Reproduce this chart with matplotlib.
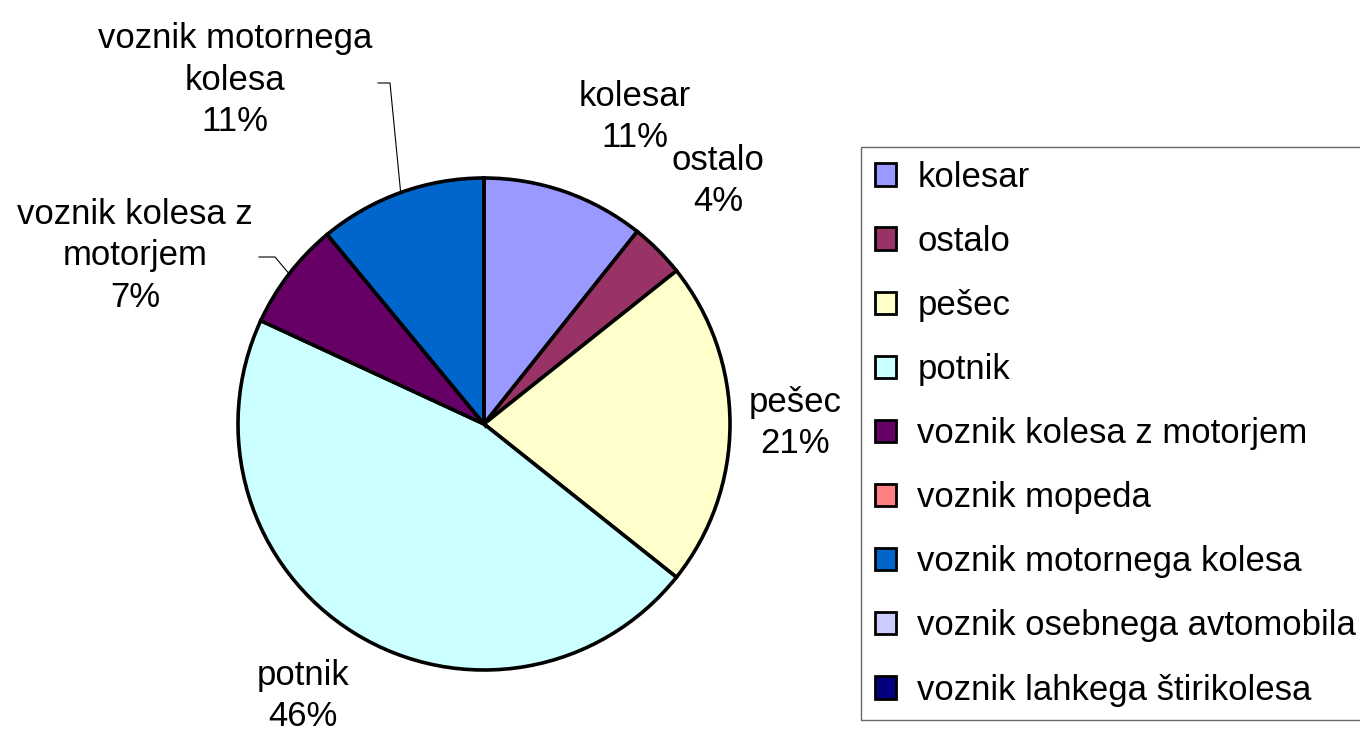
import numpy as np
import matplotlib
matplotlib.use("Agg")
import matplotlib.pyplot as plt

plt.rcParams['font.family'] = ['Liberation Sans', 'DejaVu Sans']

# categories and shares
categories = ['kolesar', 'ostalo', 'pešec', 'potnik', 'voznik kolesa z motorjem',
              'voznik mopeda', 'voznik motornega kolesa', 'voznik osebnega avtomobila',
              'voznik lahkega štirikolesa']
values = [10.7, 3.6, 21.4, 46.2, 7.1, 0.0, 11.0, 0.0, 0.0]
colors = ['#9999FF', '#993366', '#FFFFCC', '#CCFFFF', '#660066',
          '#FF8080', '#0066CC', '#CCCCFF', '#000080']
# label text on the pie (wrapped like the original)
pie_names = ['kolesar', 'ostalo', 'pešec', 'potnik', 'voznik kolesa z\nmotorjem',
             '', 'voznik motornega\nkolesa', '', '']

W, H = 1360, 739
fig = plt.figure(figsize=(W / 100, H / 100), dpi=100)
ax = fig.add_axes([0, 0, 1, 1])

def px(x, y):
    # picture pixel -> data coords
    return x, H - y

cx, cy = px(484, 424)
R = 246

wedges, _ = ax.pie(values, colors=colors, startangle=90, counterclock=False,
                   center=(cx, cy), radius=R, frame=True,
                   wedgeprops=dict(edgecolor='black', linewidth=2.6))
ax.set_xlim(0, W)
ax.set_ylim(0, H)
ax.set_aspect('equal')
ax.axis('off')

total = sum(values)
# label centres in picture pixels
label_pos = {0: (635, 117), 1: (718, 181), 2: (795, 423), 3: (303, 696),
             4: (135, 256), 6: (235, 80)}
# leader lines: knee and end point, start is the slice edge at its middle
leaders = {4: ((275, 257), (259, 257)),
           6: ((390, 83), (378, 83))}

for i, w in enumerate(wedges):
    if values[i] == 0:
        continue
    txt = '%s\n%.0f%%' % (pie_names[i], values[i] / total * 100)
    ax.text(*px(*label_pos[i]), txt, ha='center', va='center',
            fontsize=25, linespacing=1.33)
    if i in leaders:
        mid = np.deg2rad((w.theta1 + w.theta2) / 2)
        ex = cx + R * np.cos(mid)
        ey = cy + R * np.sin(mid)
        knee, end = leaders[i]
        kx, ky = px(*knee)
        nx, ny = px(*end)
        ax.plot([ex, kx, nx], [ey, ky, ny], color='black', linewidth=0.8)

leg = fig.legend(wedges, categories, loc='upper left',
                 bbox_to_anchor=(861 / W, 1 - 147 / H), fontsize=25,
                 frameon=True, fancybox=False, shadow=False,
                 handlelength=0.62, handleheight=0.62, handletextpad=0.6,
                 labelspacing=0.895, borderpad=0.4, borderaxespad=0)
leg.get_frame().set_edgecolor('#444444')
leg.get_frame().set_linewidth(1.0)
for h in leg.legend_handles:
    h.set_linewidth(2.0)

fig.savefig('out.png', dpi=100)
